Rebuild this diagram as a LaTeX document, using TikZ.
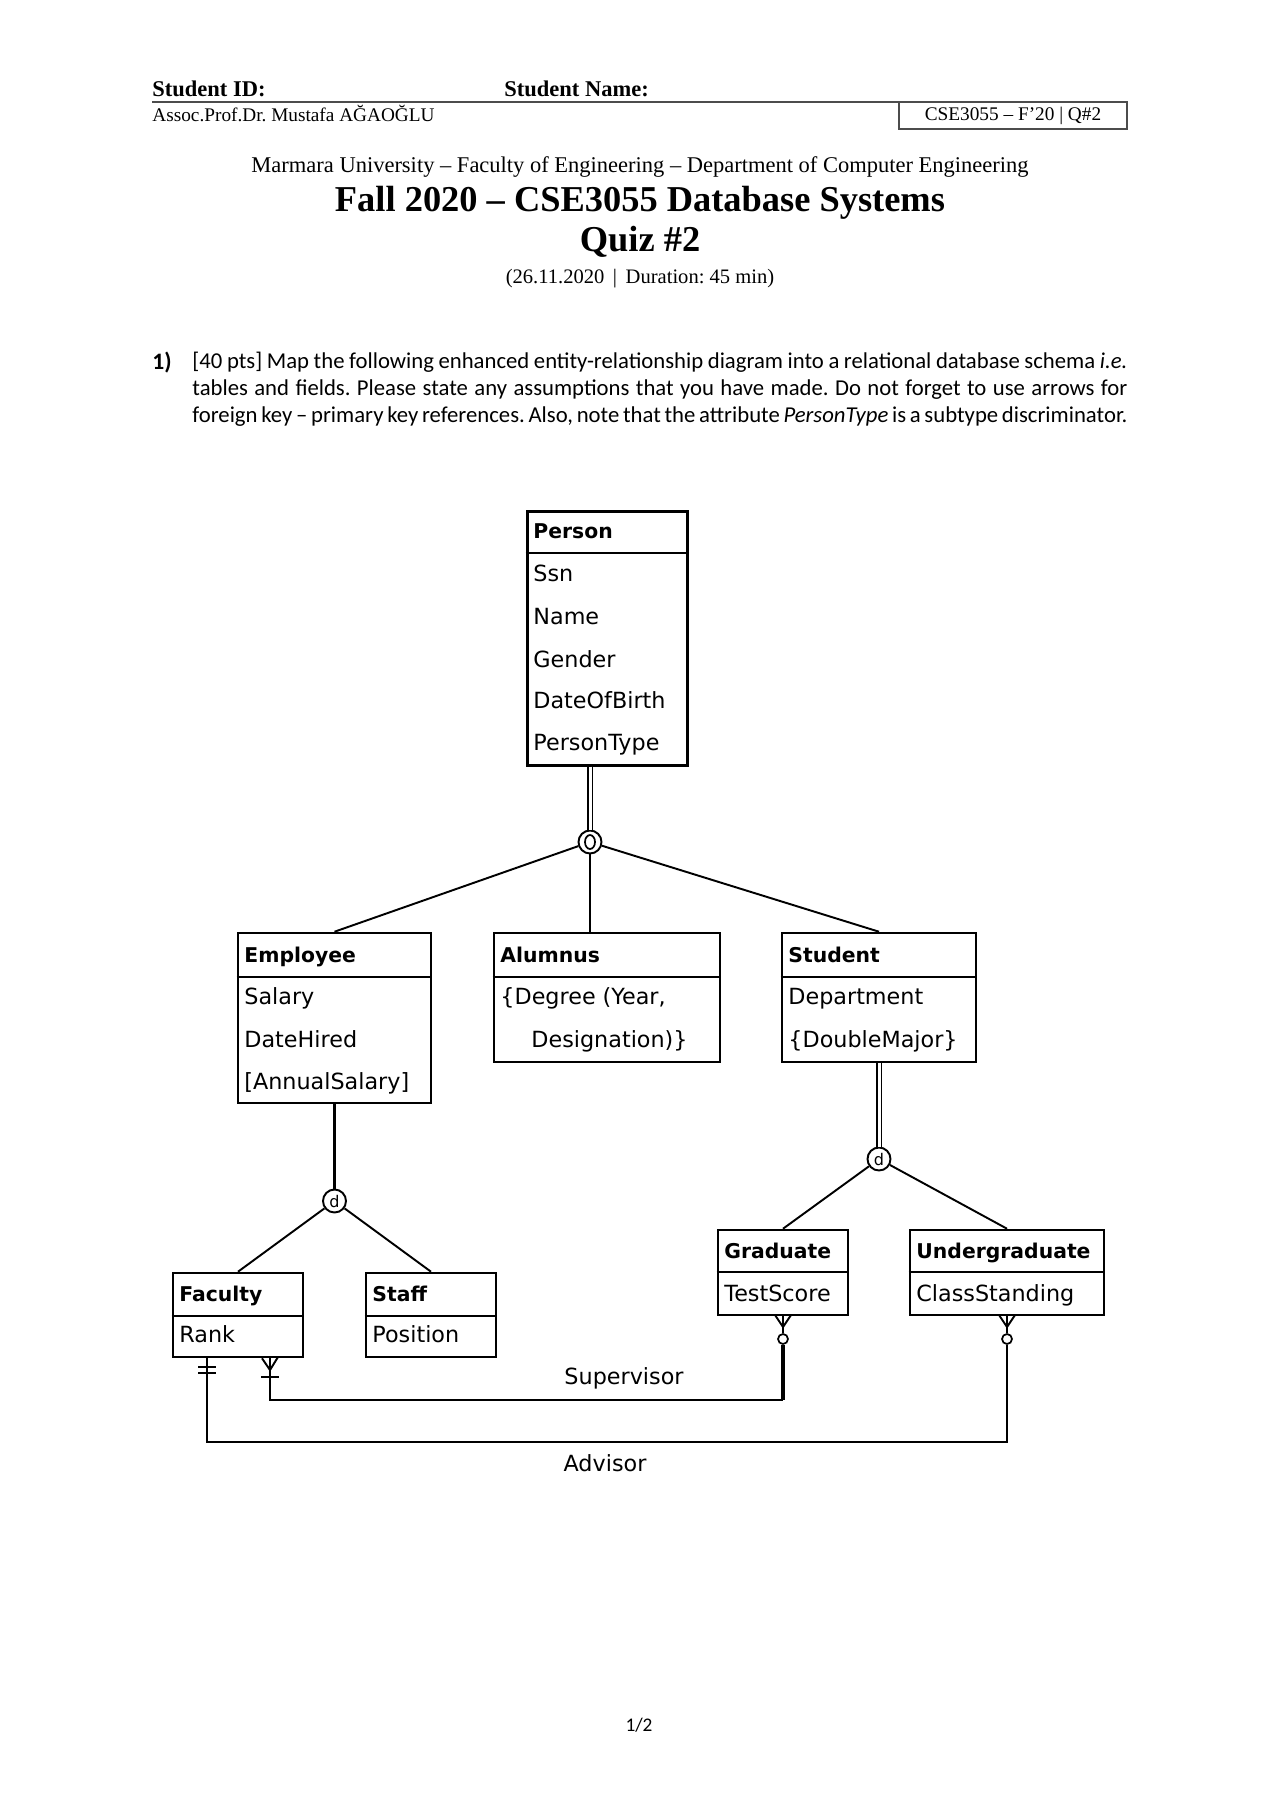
\documentclass[tikz,border=0pt]{standalone}
\usepackage{fontspec}
\setmainfont{Liberation Serif}
\newfontfamily\bodyf[Ligatures=TeX]{Carlito}
\newfontfamily\erf{DejaVu Sans}
\usetikzlibrary{fit}
\frenchspacing
\begin{document}
\begin{tikzpicture}[x=0.1640625mm,y=-0.1640625mm,
  ebox/.style={draw, line width=1.2pt, inner sep=0pt},
  sepl/.style={line width=0.9pt},
  erh/.style={anchor=west, inner sep=0pt, yshift=-0.3mm, text height=7.5pt, text depth=2.5pt, font=\erf\bfseries\fontsize{9.5}{11}\selectfont},
  erv/.style={anchor=west, inner sep=0pt, yshift=-0.3mm, text height=8pt, text depth=2.5pt, font=\erf\fontsize{10.4}{12}\selectfont},
  conn/.style={line width=0.9pt},
  thk/.style={line width=1.5pt},
  dbl/.style={double, double distance=1.4pt, line width=0.7pt},
  dcirc/.style={circle, draw, line width=0.9pt, minimum size=23*0.1640625mm, inner sep=0pt, fill=white, font=\erf\fontsize{7.5}{8}\selectfont},
  ocirc/.style={circle, draw, line width=0.8pt, minimum size=10*0.1640625mm, inner sep=0pt, fill=white},
  hdr/.style={anchor=base, inner sep=0pt},
  lbl/.style={inner sep=0pt, font=\erf\fontsize{10.4}{12}\selectfont}
]
\useasboundingbox[fill=white] (0,0) rectangle (1280,1811);

% ---------- page header ----------
\node[anchor=base west, inner sep=0pt, font=\bfseries\fontsize{10.5}{12}\selectfont] (sid) at (152,96.5) {Student ID:};
\node[anchor=base west, inner sep=0pt, font=\bfseries\fontsize{10.5}{12}\selectfont] (sname) at (504,96.5) {Student Name:};
\draw[line width=0.6pt, black!70] (152,102) -- (899,102);
\node[draw=black!70, line width=0.6pt, inner sep=0pt, minimum width=228*0.1640625mm, minimum height=27*0.1640625mm, font=\fontsize{9}{10}\selectfont] (qbox) at (1013,115.5) {CSE3055 -- F'20 | Q\#2};
\node[anchor=base west, inner sep=0pt, font=\fontsize{9}{10}\selectfont] (prof) at (152,122) {Assoc.Prof.Dr. Mustafa AĞAOĞLU};

\node[hdr, font=\fontsize{10.5}{12}\selectfont] (uni) at (640,172.5) {Marmara University -- Faculty of Engineering -- Department of Computer Engineering};
\node[hdr, font=\bfseries\fontsize{17}{20}\selectfont] (title) at (640,212) {Fall 2020 -- CSE3055 Database Systems};
\node[hdr, font=\bfseries\fontsize{17}{20}\selectfont] (quiz) at (640,251) {Quiz \#2};
\node[hdr, font=\fontsize{9.6}{12}\selectfont] (date) at (640,283) {(26.11.2020 \,|\, Duration: 45 min)};

% ---------- question ----------
\node[anchor=base west, inner sep=0pt, font=\bodyf\bfseries\fontsize{11}{12.6}\selectfont] (qnum) at (152,369) {1)};
\node[anchor=north west, inner sep=0pt, text width=935*0.1640625mm, align=justify, font=\bodyf\fontsize{10.6}{12.6}\selectfont] (qtext) at (192,352)
{\spaceskip=0.2em plus 0.3em minus 0.1em [40 pts] Map the following enhanced entity-relationship diagram into a relational database schema \textit{i.e.}\linebreak tables and fields. Please state any assumptions that you have made. Do not forget to use arrows for\linebreak foreign key – primary key references. Also, note that the attribute \textit{PersonType} is a subtype discriminator.};

% ---------- entity boxes ----------
\node[ebox, line width=1.4pt, fit={(527,511) (687,765)}] (person) {};
\draw[sepl] (person.west |- 0,553) -- (person.east |- 0,553);
\node[erh] (pT) at (533,531) {Person};
\node[erv] (p1) at (533,574) {Ssn};
\node[erv] (p2) at (533,617) {Name};
\node[erv] (p3) at (533,660) {Gender};
\node[erv] (p4) at (533,701) {DateOfBirth};
\node[erv] (p5) at (533,743) {PersonType};

\node[ebox, fit={(238,933) (431,1103)}] (emp) {};
\draw[sepl] (emp.west |- 0,977) -- (emp.east |- 0,977);
\node[erh] (eT) at (244,955) {Employee};
\node[erv] (e1) at (244,997) {Salary};
\node[erv] (e2) at (244,1040) {DateHired};
\node[erv] (e3) at (244,1082) {[AnnualSalary]};

\node[ebox, fit={(494,933) (720,1062)}] (alum) {};
\draw[sepl] (alum.west |- 0,977) -- (alum.east |- 0,977);
\node[erh] (aT) at (500,955) {Alumnus};
\node[erv] (a1) at (500,997) {\{Degree (Year,};
\node[erv] (a2) at (531,1040) {Designation)\}};

\node[ebox, fit={(782,933) (976,1062)}] (stu) {};
\draw[sepl] (stu.west |- 0,977) -- (stu.east |- 0,977);
\node[erh] (sT) at (788,955) {Student};
\node[erv] (s1) at (788,997) {Department};
\node[erv] (s2) at (788,1040) {\{DoubleMajor\}};

\node[ebox, fit={(173,1273) (303,1357)}] (fac) {};
\draw[sepl] (fac.west |- 0,1316) -- (fac.east |- 0,1316);
\node[erh] (fT) at (179,1294) {Faculty};
\node[erv] (f1) at (179,1335) {Rank};

\node[ebox, fit={(366,1273) (496,1357)}] (staff) {};
\draw[sepl] (staff.west |- 0,1316) -- (staff.east |- 0,1316);
\node[erh] (stT) at (372,1294) {Staff};
\node[erv] (st1) at (372,1335) {Position};

\node[ebox, fit={(718,1230) (848,1315)}] (grad) {};
\draw[sepl] (grad.west |- 0,1272) -- (grad.east |- 0,1272);
\node[erh] (gT) at (724,1251) {Graduate};
\node[erv] (g1) at (724,1294) {TestScore};

\node[ebox, fit={(910,1230) (1104,1315)}] (ugrad) {};
\draw[sepl] (ugrad.west |- 0,1272) -- (ugrad.east |- 0,1272);
\node[erh] (uT) at (916,1251) {Undergraduate};
\node[erv] (u1) at (916,1294) {ClassStanding};

% ---------- specialization ----------
\node[dcirc] (j0) at (590,842) {};
\draw[line width=0.8pt] (j0.center) ellipse [x radius=5, y radius=7];
\draw[dbl] (j0 |- person.south) -- (j0);
\draw[conn] (j0) -- (emp.north);
\draw[conn] (j0) -- (j0 |- alum.north);
\draw[conn] (j0) -- (stu.north);

\node[dcirc] (d1) at (334.5,1201) {d};
\draw[thk] (emp.south) -- (d1);
\draw[conn] (d1) -- (fac.north);
\draw[conn] (d1) -- (staff.north);

\node[dcirc] (d2) at (879,1159) {d};
\draw[dbl] (stu.south) -- (d2);
\draw[conn] (d2) -- (grad.north);
\draw[conn] (d2) -- (ugrad.north);

% ---------- relationships ----------
\node[ocirc] (gc) at (783,1339) {};
\node[ocirc] (uc) at (1007,1339) {};
\coordinate (supF) at (270,1357);
\coordinate (advF) at (207,1357);
\coordinate (supB) at (270,1400);
\coordinate (supG) at (783,1400);
\coordinate (advB) at (207,1442);
\coordinate (advU) at (1007,1442);

% Supervisor
\draw[conn] (supF) -- (supB) -- (supG);
\draw[thk] (gc) -- (supG);
\draw[conn] (fac.south -| supF) ++(-8,0) -- (270,1370) -- ++(8,-13);
\draw[conn] (270,1370) -- (supF);
\draw[conn] (261,1377) -- (279,1377);
\draw[conn] (gc) -- (grad.south -| gc);
\draw[conn] (775,1315) -- (783,1327) -- (791,1315);
\node[lbl] (supL) at (624,1378) {Supervisor};

% Advisor
\draw[conn] (advF) -- (advB) -- (advU) -- (uc);
\draw[conn] (198,1367) -- (216,1367);
\draw[conn] (198,1373) -- (216,1373);
\draw[conn] (uc) -- (ugrad.south -| uc);
\draw[conn] (999,1315) -- (1007,1327) -- (1015,1315);
\node[lbl] (advL) at (605,1463) {Advisor};

% page number
\node[inner sep=0pt, font=\bodyf\fontsize{9}{10}\selectfont] (pg) at (639,1725) {1/2};
\end{tikzpicture}
\end{document}
